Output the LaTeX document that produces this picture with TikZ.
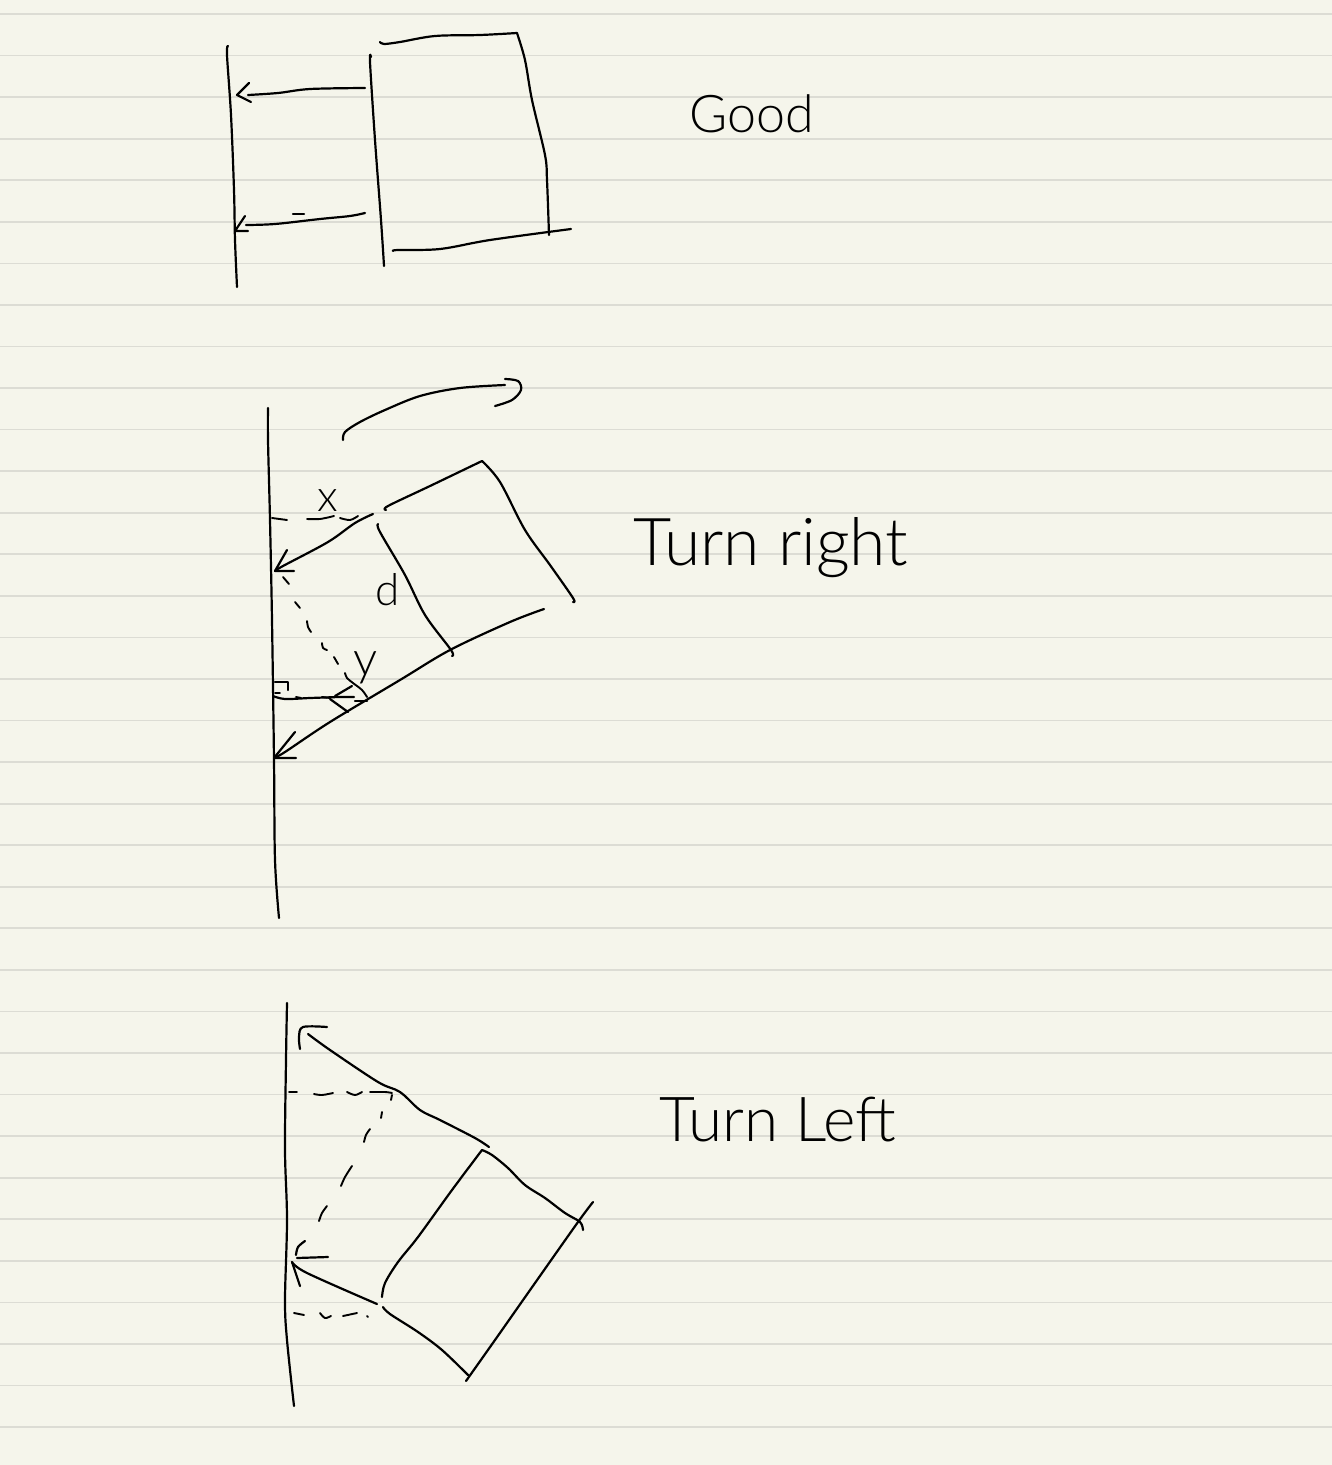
\documentclass[tikz,border=0pt]{standalone}
\usepackage{fontspec}
\setmainfont{Lato}[UprightFont=* Light,ItalicFont=* Light Italic]
\definecolor{paper}{HTML}{F5F5EB}
\definecolor{rule}{HTML}{DCDCD4}
\definecolor{ink}{HTML}{000000}
\tikzset{
  hand/.style={ink,line width=2.2pt,line cap=round,line join=round},
  thin hand/.style={ink,line width=1.9pt,line cap=round,line join=round},
  script/.style={ink,inner sep=0pt,anchor=center},
}
\newcommand{\stroke}[1]{\draw[hand] plot[smooth,tension=0.55] coordinates {#1};}
\newcommand{\poly}[1]{\draw[hand] plot[sharp plot] coordinates {#1};}
\newcommand{\dashbit}[1]{\draw[thin hand] plot[smooth,tension=0.55] coordinates {#1};}
\begin{document}
\begin{tikzpicture}[x=1pt,y=-1pt]
\fill[paper] (0,0) rectangle (1332,1465);
\useasboundingbox (0,0) rectangle (1332,1465);
\foreach \k in {0,...,34}{\draw[rule,line width=1.7pt] (0,{14+41.56*\k}) -- (1332,{14+41.56*\k});}

% ---- Good
\stroke{(228,46)(227,55)(231,115)(234,190)(235,240)(237,287)}
\stroke{(371,57)(370,62)(375,140)(381,220)(384,266)}
\stroke{(248,95)(278,93)(310,89)(365,88)}
\poly{(249,83)(237,95)(251,102)}
\stroke{(246,225)(275,224)(320,219)(350,216)(365,213)}
\poly{(245,216)(235,231)(248,231)}
\poly{(293,214)(304,214)}
\stroke{(380,42)(384,44)(400,42)(435,36)(480,35)(517,33)}
\stroke{(517,33)(525,60)(532,100)(545,155)(547,180)(549,235)}
\stroke{(393,251)(398,250)(440,249)(490,240)(571,229)}
\node[script,font=\fontsize{52}{52}\selectfont] (good) at (752,114) {Good};

% ---- Turn right
\stroke{(268,408)(268,440)(270,520)(272,620)(274,760)(275,860)(279,918)}
\stroke{(343,440)(345,432)(360,422)(385,410)(420,396)(460,388)(505,385)}
\stroke{(505,379)(518,381)(521,390)(512,400)(495,406)}
\stroke{(386,510)(388,506)(430,486)(482,461)}
\stroke{(482,461)(500,482)(525,530)(550,565)(573,598)(573,602)}
\stroke{(378,524)(380,532)(405,575)(425,615)(451,650)(452,656)}
\stroke{(544,609)(510,622)(450,650)(400,680)(330,722)(285,752)(274,758)}
\poly{(295,732)(274,758)(296,758)}
\stroke{(373,514)(355,523)(328,542)(283,566)(275,571)}
\poly{(287,550)(275,571)(294,571)}
\dashbit{(272,518)(287,520)}
\dashbit{(307,519)(320,519)(334,516)}
\dashbit{(340,518)(350,520)(358,516)}
\node[script,font=\fontsize{44}{44}\selectfont] (lx) at (328,501) {x};
\node[script,font=\fontsize{44}{44}\selectfont] (ld) at (388,590) {d};
\node[script,font=\fontsize{48}{48}\selectfont] (ly) at (366,668) {y};
\dashbit{(283,577)(289,584)}
\dashbit{(295,602)(300,608)}
\dashbit{(307,621)(308,627)(311,632)}
\dashbit{(322,643)(323,648)(327,650)}
\dashbit{(334,657)(338,664)}
\dashbit{(345,673)(347,678)(353,683)(362,690)(367,697)}
\stroke{(273,696)(285,699)(310,698)(340,697)(354,697)}
\poly{(352,686)(335,696)}
\poly{(330,699)(348,712)}
\poly{(355,701)(367,701)}
\poly{(275,682)(288,682)(288,690)}
\dashbit{(275,693)(280,693)}
\dashbit{(296,697)(301,698)}
\dashbit{(322,697)(330,698)}
\node[script,font=\fontsize{66}{66}\selectfont] (tr) at (771,548) {Turn right};

% ---- Turn Left
\stroke{(287,1003)(286,1060)(285,1150)(287,1220)(285,1300)(287,1340)(294,1406)}
\stroke{(308,1034)(330,1050)(378,1082)(400,1092)(420,1110)(440,1120)(475,1138)(489,1147)}
\stroke{(300,1049)(299,1037)(303,1027)(327,1027)}
\dashbit{(289,1092)(297,1092)}
\dashbit{(314,1094)(322,1095)(333,1093)}
\dashbit{(347,1092)(355,1095)(362,1092)}
\dashbit{(370,1092)(385,1092)(392,1093)}
\dashbit{(392,1095)(391,1100)}
\dashbit{(382,1112)(381,1118)}
\dashbit{(370,1129)(366,1135)(364,1142)}
\dashbit{(352,1166)(345,1177)(341,1186)}
\dashbit{(327,1206)(322,1213)(319,1221)}
\stroke{(305,1241)(298,1247)(296,1255)}
\poly{(297,1258)(328,1257)}
\poly{(292,1262)(300,1286)}
\stroke{(292,1262)(307,1273)(377,1304)}
\stroke{(482,1150)(492,1155)(508,1168)(525,1185)(545,1198)(565,1213)(580,1222)(583,1230)}
\stroke{(482,1150)(452,1190)(418,1237)(398,1262)(385,1283)(382,1297)}
\stroke{(383,1307)(390,1314)(418,1332)(442,1350)(468,1375)}
\stroke{(593,1202)(578,1222)(535,1283)(495,1340)(466,1381)}
\dashbit{(294,1313)(304,1315)}
\dashbit{(320,1313)(325,1318)(331,1316)}
\dashbit{(343,1316)(357,1313)}
\dashbit{(367,1316)(368,1317)}
\node[script,font=\fontsize{62}{62}\selectfont] (tl) at (778,1120) {Turn Left};
\end{tikzpicture}
\end{document}
